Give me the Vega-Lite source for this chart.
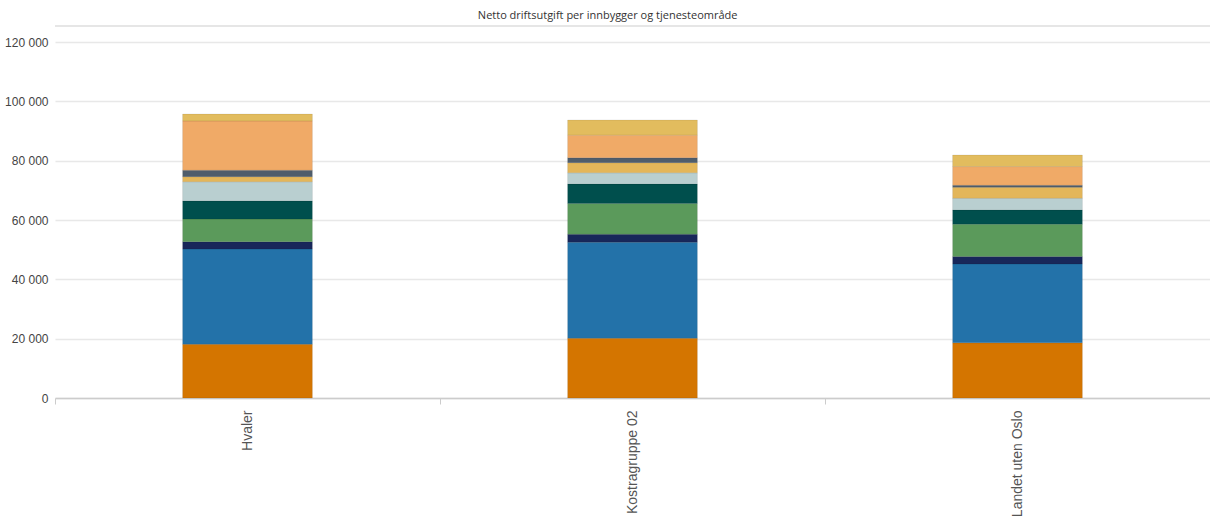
{
  "$schema": "https://vega.github.io/schema/vega-lite/v6.json",
  "autosize": "none",
  "width": 1155,
  "height": 356,
  "padding": {"left": 55, "top": 42, "right": 0, "bottom": 124},
  "background": "white",
  "title": {
    "text": "Netto driftsutgift per innbygger og tjenesteområde",
    "font": "Open Sans",
    "fontSize": 11,
    "fontWeight": "normal",
    "color": "#333333",
    "anchor": "middle",
    "frame": "bounds",
    "offset": 4
  },
  "data": {
    "values": [
      {"omrade": "Hvaler", "nr": 1, "tjeneste": "Grunnskole", "verdi": 18100},
      {"omrade": "Hvaler", "nr": 2, "tjeneste": "Pleie og omsorg", "verdi": 32100},
      {"omrade": "Hvaler", "nr": 3, "tjeneste": "Barnevern", "verdi": 2500},
      {"omrade": "Hvaler", "nr": 4, "tjeneste": "Barnehage", "verdi": 7600},
      {"omrade": "Hvaler", "nr": 5, "tjeneste": "Administrasjon", "verdi": 6100},
      {"omrade": "Hvaler", "nr": 6, "tjeneste": "Kommunehelse", "verdi": 6500},
      {"omrade": "Hvaler", "nr": 7, "tjeneste": "Sosiale tjenester", "verdi": 1700},
      {"omrade": "Hvaler", "nr": 8, "tjeneste": "Kultur og idrett", "verdi": 2200},
      {"omrade": "Hvaler", "nr": 9, "tjeneste": "Andre områder", "verdi": 16600},
      {"omrade": "Hvaler", "nr": 10, "tjeneste": "Samferdsel", "verdi": 2300},
      {"omrade": "Kostragruppe 02", "nr": 1, "tjeneste": "Grunnskole", "verdi": 20100},
      {"omrade": "Kostragruppe 02", "nr": 2, "tjeneste": "Pleie og omsorg", "verdi": 32400},
      {"omrade": "Kostragruppe 02", "nr": 3, "tjeneste": "Barnevern", "verdi": 2700},
      {"omrade": "Kostragruppe 02", "nr": 4, "tjeneste": "Barnehage", "verdi": 10400},
      {"omrade": "Kostragruppe 02", "nr": 5, "tjeneste": "Administrasjon", "verdi": 6500},
      {"omrade": "Kostragruppe 02", "nr": 6, "tjeneste": "Kommunehelse", "verdi": 3800},
      {"omrade": "Kostragruppe 02", "nr": 7, "tjeneste": "Sosiale tjenester", "verdi": 3400},
      {"omrade": "Kostragruppe 02", "nr": 8, "tjeneste": "Kultur og idrett", "verdi": 1700},
      {"omrade": "Kostragruppe 02", "nr": 9, "tjeneste": "Andre områder", "verdi": 7600},
      {"omrade": "Kostragruppe 02", "nr": 10, "tjeneste": "Samferdsel", "verdi": 5100},
      {"omrade": "Landet uten Oslo", "nr": 1, "tjeneste": "Grunnskole", "verdi": 18600},
      {"omrade": "Landet uten Oslo", "nr": 2, "tjeneste": "Pleie og omsorg", "verdi": 26600},
      {"omrade": "Landet uten Oslo", "nr": 3, "tjeneste": "Barnevern", "verdi": 2500},
      {"omrade": "Landet uten Oslo", "nr": 4, "tjeneste": "Barnehage", "verdi": 10900},
      {"omrade": "Landet uten Oslo", "nr": 5, "tjeneste": "Administrasjon", "verdi": 4800},
      {"omrade": "Landet uten Oslo", "nr": 6, "tjeneste": "Kommunehelse", "verdi": 3900},
      {"omrade": "Landet uten Oslo", "nr": 7, "tjeneste": "Sosiale tjenester", "verdi": 3700},
      {"omrade": "Landet uten Oslo", "nr": 8, "tjeneste": "Kultur og idrett", "verdi": 700},
      {"omrade": "Landet uten Oslo", "nr": 9, "tjeneste": "Andre områder", "verdi": 6300},
      {"omrade": "Landet uten Oslo", "nr": 10, "tjeneste": "Samferdsel", "verdi": 3900}
    ]
  },
  "layer": [
    {
      "mark": {"type": "bar", "width": {"band": 0.337}, "stroke": "#00000022", "strokeWidth": 0.6},
      "encoding": {
        "x": {
          "field": "omrade",
          "type": "nominal",
          "sort": null,
          "scale": {"paddingInner": 0, "paddingOuter": 0},
          "axis": {
            "title": null,
            "labelAngle": -90,
            "labelAlign": "right",
            "labelBaseline": "middle",
            "labelFont": "Liberation Sans",
            "labelFontSize": 14,
            "labelColor": "#555555",
            "labelPadding": 6,
            "tickBand": "extent",
            "tickSize": 6,
            "tickColor": "#cccccc",
            "domainColor": "#cccccc",
            "domainWidth": 1.5,
            "grid": false
          }
        },
        "y": {
          "field": "verdi",
          "type": "quantitative",
          "stack": "zero",
          "scale": {"domain": [0, 120000], "nice": false},
          "axis": {
            "title": null,
            "values": [0, 20000, 40000, 60000, 80000, 100000, 120000],
            "labelExpr": "replace(format(datum.value, ','), ',', ' ')",
            "labelFont": "Liberation Sans Narrow, Liberation Sans",
            "labelFontSize": 12,
            "labelColor": "#444444",
            "labelPadding": 7,
            "ticks": false,
            "domain": false,
            "grid": true,
            "gridColor": "#e8e8e8",
            "gridWidth": 1.5
          }
        },
        "color": {
          "field": "tjeneste",
          "type": "nominal",
          "legend": null,
          "scale": {
            "domain": ["Grunnskole", "Pleie og omsorg", "Barnevern", "Barnehage", "Administrasjon", "Kommunehelse", "Sosiale tjenester", "Kultur og idrett", "Andre områder", "Samferdsel"],
            "range": ["#d47500", "#2372a9", "#18275a", "#5b9a5b", "#004f4d", "#b9cfd0", "#e3b65a", "#4f5d6b", "#f0aa67", "#e2bc5e"]
          }
        },
        "order": {"field": "nr", "type": "quantitative", "sort": "ascending"}
      }
    },
    {
      "mark": {"type": "rule", "color": "#e6e6e6", "strokeWidth": 1.5},
      "encoding": {
        "y": {"datum": 125400, "type": "quantitative"}
      }
    }
  ],
  "config": {
    "view": {"stroke": null}
  }
}
